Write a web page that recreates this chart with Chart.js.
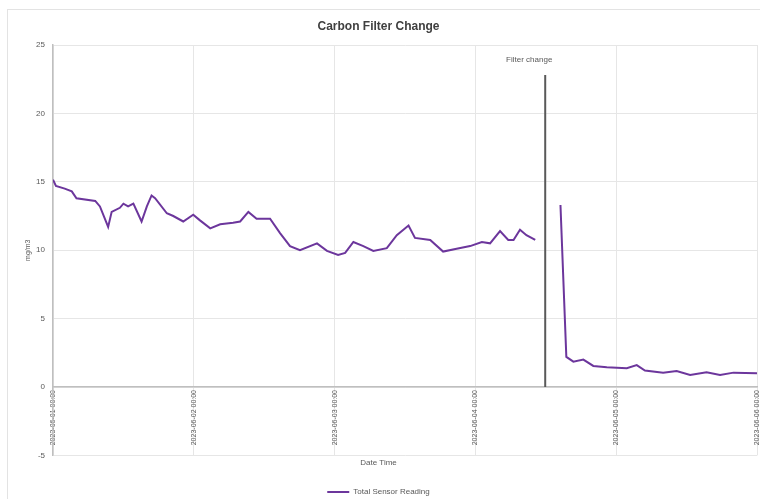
<!DOCTYPE html>
<html><head><meta charset="utf-8">
<script src="https://cdn.jsdelivr.net/npm/chart.js@4"></script>
<style>html,body{margin:0;padding:0;background:#fff}#wrap{width:760px;height:499px;position:relative}</style>
</head><body><div id="wrap"><canvas id="c"></canvas></div>
<script>
// Hours since first x tick
const hours = [0,0.5,2,3.2,4,7.2,8,9.4,10,11.4,12,12.8,13.7,15.1,16,16.8,17.4,19.4,20.5,22.2,23.9,25,26.8,28.5,30.7,31.9,33.3,34.7,37,38.7,40.4,42.1,45,46.7,48.6,49.8,51.2,52.9,54.6,56.9,58.6,60.6,61.7,64.3,66.5,68.8,71.1,73.1,74.5,76.2,77.6,78.5,79.6,80.7,82.2,84,86.5,87.5,88.7,90.4,92.1,94.4,97.8,99.5,100.9,104,106.3,108.6,111.4,113.7,116,120];
const reading = [15.15,14.7,14.5,14.3,13.8,13.6,13.2,11.7,12.8,13.1,13.4,13.2,13.4,12.1,13.2,14.0,13.8,12.7,12.5,12.1,12.6,12.2,11.6,11.9,12.0,12.1,12.8,12.3,12.3,11.25,10.3,10.0,10.5,9.95,9.66,9.8,10.6,10.3,9.95,10.15,11.1,11.8,10.9,10.75,9.9,10.1,10.3,10.6,10.5,11.4,10.75,10.75,11.5,11.1,10.75,null,13.3,2.2,1.85,2.0,1.54,1.44,1.37,1.6,1.2,1.05,1.17,0.88,1.07,0.88,1.05,1.0];
const tickLabels = ['2023-06-01 00:00','2023-06-02 00:00','2023-06-03 00:00','2023-06-04 00:00','2023-06-05 00:00','2023-06-06 00:00'];
const tickHours = [0,24,48,72,96,120];
const filterChangeHour = [83.9, 83.9];
const filterLineValues = [0, 22.8];
const filterLabel = 'Filter change';
const filterLabelValue = 23.9;

const mainData = hours.map((h,i)=>({x:h,y:reading[i]}));
const filterData = filterChangeHour.map((h,i)=>({x:h,y:filterLineValues[i]}));

const txt = '#595959';
const annot = {
  id:'annot',
  beforeDraw(chart){
    const c=chart.ctx; c.save(); c.strokeStyle='#e3e3e3'; c.lineWidth=1;
    c.strokeRect(7.5,9.5,760,499); c.restore();
  },
  afterDatasetsDraw(chart){
    const c=chart.ctx, xs=chart.scales.x, ys=chart.scales.y;
    c.save(); c.fillStyle=txt; c.font='8px "Liberation Sans", Arial, sans-serif';
    c.textAlign='center'; c.textBaseline='middle';
    c.fillText(filterLabel, xs.getPixelForValue(filterChangeHour[0]) - 16, ys.getPixelForValue(filterLabelValue));
    c.restore();
  }
};

new Chart(document.getElementById('c'), {
  type:'line',
  data:{datasets:[
    {label:'Total Sensor Reading', data:mainData, borderColor:'#6c369c', backgroundColor:'#6c369c', borderWidth:2, pointRadius:0, tension:0, spanGaps:false},
    {label:'filter', data:filterData, borderColor:'#595959', borderWidth:2, pointRadius:0}
  ]},
  options:{
    responsive:true, maintainAspectRatio:false, animation:false,
    layout:{padding:{left:0,right:3,top:0,bottom:-7}},
    plugins:{
      title:{display:true, text:'Carbon Filter Change', color:'#404040', font:{size:12, weight:'bold', family:'"Liberation Sans", Arial, sans-serif'}, padding:{top:19,bottom:11.6}},
      subtitle:{display:true, position:'bottom', weight:500, text:'Date Time', color:txt, font:{size:8, family:'"Liberation Sans", Arial, sans-serif'}, padding:{top:3,bottom:17}},
      legend:{position:'bottom', weight:1000, labels:{filter:(it)=>it.text!=='filter', color:txt, usePointStyle:true, pointStyle:'line', pointStyleWidth:22, font:{size:8, family:'"Liberation Sans", Arial, sans-serif'}, padding:3}},
      tooltip:{enabled:false}
    },
    scales:{
      x:{type:'linear', position:{y:0}, min:0, max:120,
        afterBuildTicks(s){ s.ticks = tickHours.map(v=>({value:v})); },
        afterFit(s){ s.paddingLeft = 0; s.paddingRight = 0; },
        ticks:{autoSkip:false, minRotation:90, maxRotation:90, padding:3, color:txt, font:{size:7, family:'"Liberation Sans", Arial, sans-serif'},
          callback:(v)=>{const i=tickHours.indexOf(v); return i>=0?tickLabels[i]:'';}},
        grid:{color:'#e6e6e6', drawTicks:false},
        border:{color:'#bfbfbf', width:1.5}
      },
      y:{min:-5, max:25,
        afterFit(s){ s.width = 53; },
        ticks:{stepSize:5, padding:8, color:txt, font:{size:8, family:'"Liberation Sans", Arial, sans-serif'}},
        grid:{color:'#e6e6e6', drawTicks:false},
        border:{color:'#bfbfbf', width:1.5},
        title:{display:true, text:'mg/m3', color:txt, font:{size:7, family:'"Liberation Sans", Arial, sans-serif'}, padding:{top:24,bottom:0}}
      }
    }
  },
  plugins:[annot]
});
</script></body></html>
